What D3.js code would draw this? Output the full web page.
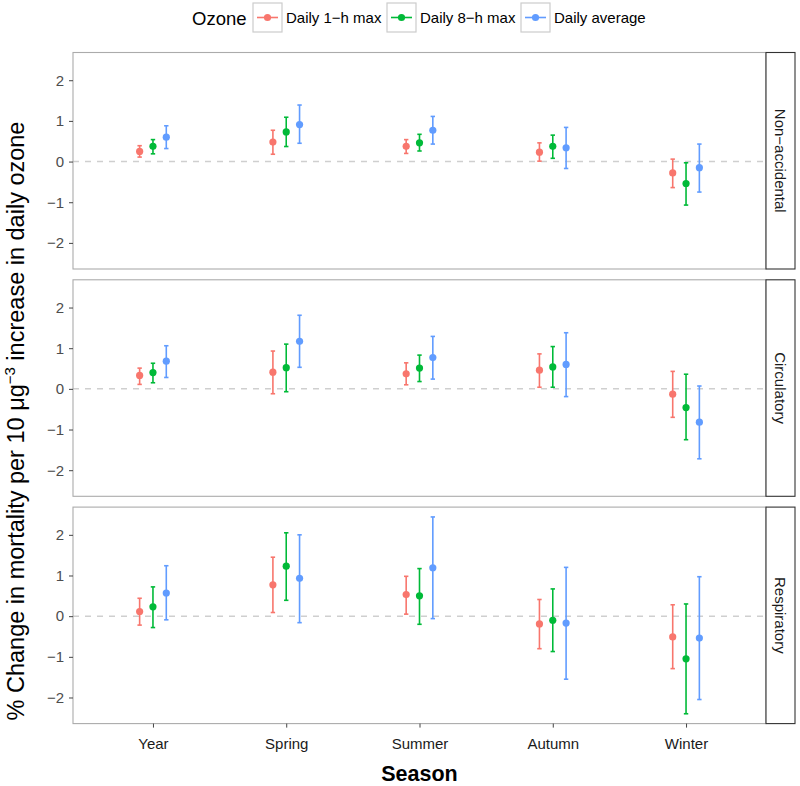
<!DOCTYPE html>
<html>
<head>
<meta charset="utf-8">
<script src="https://cdn.jsdelivr.net/npm/d3@7"></script>
<style>
  body { margin: 0; background: #fff; }
  svg { font-family: "Liberation Sans", Arial, sans-serif; }
</style>
</head>
<body>
<div id="chart"></div>
<script>
// categories
const seasons = ["Year", "Spring", "Summer", "Autumn", "Winter"];
const causes = ["Non\u2212accidental", "Circulatory", "Respiratory"];
const metrics = ["Daily 1\u2212h max", "Daily 8\u2212h max", "Daily average"];

// estimates per metric (rows) and season (cols), with lower / upper bounds
const nonAccEst = [[0.25, 0.48, 0.375, 0.23, -0.28], [0.375, 0.73, 0.46, 0.375, -0.54], [0.60, 0.91, 0.77, 0.34, -0.15]];
const nonAccLo  = [[0.11, 0.18, 0.20, 0.01, -0.64], [0.19, 0.37, 0.26, 0.08, -1.07], [0.32, 0.45, 0.43, -0.17, -0.75]];
const nonAccHi  = [[0.39, 0.77, 0.54, 0.46, 0.06], [0.54, 1.09, 0.67, 0.65, -0.03], [0.88, 1.39, 1.11, 0.84, 0.43]];

const circEst = [[0.33, 0.41, 0.37, 0.46, -0.13], [0.40, 0.52, 0.51, 0.54, -0.46], [0.68, 1.17, 0.77, 0.60, -0.82]];
const circLo  = [[0.11, -0.12, 0.10, 0.04, -0.70], [0.15, -0.07, 0.18, 0.04, -1.25], [0.28, 0.53, 0.24, -0.19, -1.72]];
const circHi  = [[0.51, 0.93, 0.64, 0.86, 0.43], [0.63, 1.10, 0.83, 1.04, 0.36], [1.06, 1.81, 1.29, 1.38, 0.07]];

const respEst = [[0.115, 0.77, 0.53, -0.19, -0.51], [0.23, 1.23, 0.50, -0.10, -1.05], [0.57, 0.93, 1.19, -0.17, -0.54]];
const respLo  = [[-0.22, 0.09, 0.05, -0.80, -1.29], [-0.28, 0.39, -0.20, -0.87, -2.40], [-0.09, -0.16, -0.06, -1.55, -2.05]];
const respHi  = [[0.44, 1.45, 0.98, 0.41, 0.28], [0.72, 2.05, 1.17, 0.67, 0.30], [1.24, 2.00, 2.44, 1.20, 0.97]];

const yTicks = [-2, -1, 0, 1, 2];
const colors = ["#F8766D", "#00BA38", "#619CFF"];

// build long table
let est = [nonAccEst, circEst, respEst];
let lo = [nonAccLo, circLo, respLo];
let hi = [nonAccHi, circHi, respHi];
let rows = [];
causes.forEach((c, ci) => {
    metrics.forEach((m, mi) => {
        seasons.forEach((s, si) => {
            rows.push({cause: c, metric: m, mi: mi, season: s,
                       est: est[ci][mi][si], lo: lo[ci][mi][si], hi: hi[ci][mi][si]});
        });
    });
});

const width = 800, height = 786;
const panelLeft = 73, panelRight = 766, stripW = 29;
const panelTop = 52.5, panelH = 216.5, panelGap = 10.8;
const tickFont = "15px";

let svg = d3.select("#chart").append("svg")
    .attr("width", width)
    .attr("height", height);

let x = d3.scalePoint()
    .domain(seasons)
    .range([panelLeft, panelRight])
    .padding(0.6);
let dodge = x.step() * 0.1;

// ggplot-like 5% expansion
let yMin = d3.min(rows, d => d.lo), yMax = d3.max(rows, d => d.hi);
let pad = (yMax - yMin) * 0.05;
let y = d3.scaleLinear()
    .domain([yMin - pad, yMax + pad])
    .range([panelH, 0]);

causes.forEach((cause, ci) => {
    let top = panelTop + ci * (panelH + panelGap);
    let g = svg.append("g").attr("transform", `translate(0,${top})`);

    g.append("rect")
        .attr("x", panelLeft).attr("y", 0)
        .attr("width", panelRight - panelLeft).attr("height", panelH)
        .attr("fill", "#fff");

    // zero reference line
    g.append("line")
        .attr("x1", panelLeft).attr("x2", panelRight)
        .attr("y1", y(0)).attr("y2", y(0))
        .attr("stroke", "#cfcfcf")
        .attr("stroke-width", 1.5)
        .attr("stroke-dasharray", "6,6");

    let data = rows.filter(d => d.cause === cause);
    let px = d => x(d.season) + (d.mi - 1) * dodge;

    let bars = g.append("g").selectAll("g")
        .data(data)
        .join("g")
        .attr("stroke", d => colors[d.mi])
        .attr("stroke-width", 1.6);
    bars.append("line")
        .attr("x1", px).attr("x2", px)
        .attr("y1", d => y(d.lo)).attr("y2", d => y(d.hi));
    bars.append("line")
        .attr("x1", d => px(d) - 2.2).attr("x2", d => px(d) + 2.2)
        .attr("y1", d => y(d.lo)).attr("y2", d => y(d.lo));
    bars.append("line")
        .attr("x1", d => px(d) - 2.2).attr("x2", d => px(d) + 2.2)
        .attr("y1", d => y(d.hi)).attr("y2", d => y(d.hi));

    g.append("g").selectAll("circle")
        .data(data)
        .join("circle")
        .attr("cx", px)
        .attr("cy", d => y(d.est))
        .attr("r", 3.6)
        .attr("fill", d => colors[d.mi]);

    // panel border
    g.append("rect")
        .attr("x", panelLeft).attr("y", 0)
        .attr("width", panelRight - panelLeft).attr("height", panelH)
        .attr("fill", "none")
        .attr("stroke", "#ababab")
        .attr("stroke-width", 1.1);

    // y axis
    let ya = g.append("g")
        .attr("transform", `translate(${panelLeft},0)`)
        .call(d3.axisLeft(y).tickValues(yTicks).tickFormat(d3.format("d")).tickSize(4).tickPadding(5));
    ya.select(".domain").remove();
    ya.selectAll(".tick line").attr("stroke", "#444");
    ya.selectAll(".tick text")
        .attr("fill", "#4d4d4d")
        .style("font-size", tickFont)
        .style("font-family", "Liberation Sans, Arial, sans-serif");

    // strip
    g.append("rect")
        .attr("x", panelRight).attr("y", 0)
        .attr("width", stripW).attr("height", panelH)
        .attr("fill", "#fff")
        .attr("stroke", "#333")
        .attr("stroke-width", 1.1);
    g.append("text")
        .attr("transform", `translate(${panelRight + stripW / 2},${panelH / 2}) rotate(90)`)
        .attr("text-anchor", "middle")
        .attr("dy", "0.35em")
        .attr("fill", "#1a1a1a")
        .style("font-size", tickFont)
        .text(cause);

    if (ci === causes.length - 1) {
        let xa = g.append("g")
            .attr("transform", `translate(0,${panelH})`)
            .call(d3.axisBottom(x).tickSize(4).tickPadding(11));
        xa.select(".domain").remove();
        xa.selectAll(".tick line").attr("stroke", "#444");
        xa.selectAll(".tick text")
            .attr("fill", "#1a1a1a")
            .style("font-size", tickFont)
            .style("font-family", "Liberation Sans, Arial, sans-serif");
    }
});

// axis titles
svg.append("text")
    .attr("x", (panelLeft + panelRight) / 2)
    .attr("y", 781)
    .attr("text-anchor", "middle")
    .style("font-size", "21.5px")
    .style("font-weight", "bold")
    .text("Season");

let yt = svg.append("text")
    .attr("transform", "translate(24,421) rotate(-90)")
    .attr("text-anchor", "middle")
    .style("font-size", "23.5px");
yt.append("tspan").text("% Change in mortality per 10 \u03bcg");
yt.append("tspan").attr("dy", -9).style("font-size", "15px").text("\u22123");
yt.append("tspan").attr("dy", 9).text(" increase in daily ozone");

// legend
let legend = svg.append("g");
legend.append("text")
    .attr("x", 192).attr("y", 25)
    .style("font-size", "18.5px")
    .text("Ozone");
let keyX = [253, 387, 521];
metrics.forEach((m, i) => {
    let k = legend.append("g").attr("transform", `translate(${keyX[i]},3)`);
    k.append("rect")
        .attr("width", 29).attr("height", 29)
        .attr("fill", "#fff")
        .attr("stroke", "#cccccc")
        .attr("stroke-width", 1.2);
    k.append("line")
        .attr("x1", 4).attr("x2", 25)
        .attr("y1", 14.5).attr("y2", 14.5)
        .attr("stroke", colors[i]).attr("stroke-width", 1.6);
    k.append("circle")
        .attr("cx", 14.5).attr("cy", 14.5).attr("r", 3.6)
        .attr("fill", colors[i]);
    k.append("text")
        .attr("x", 33).attr("y", 20)
        .style("font-size", tickFont)
        .text(m);
});
</script>
</body>
</html>
